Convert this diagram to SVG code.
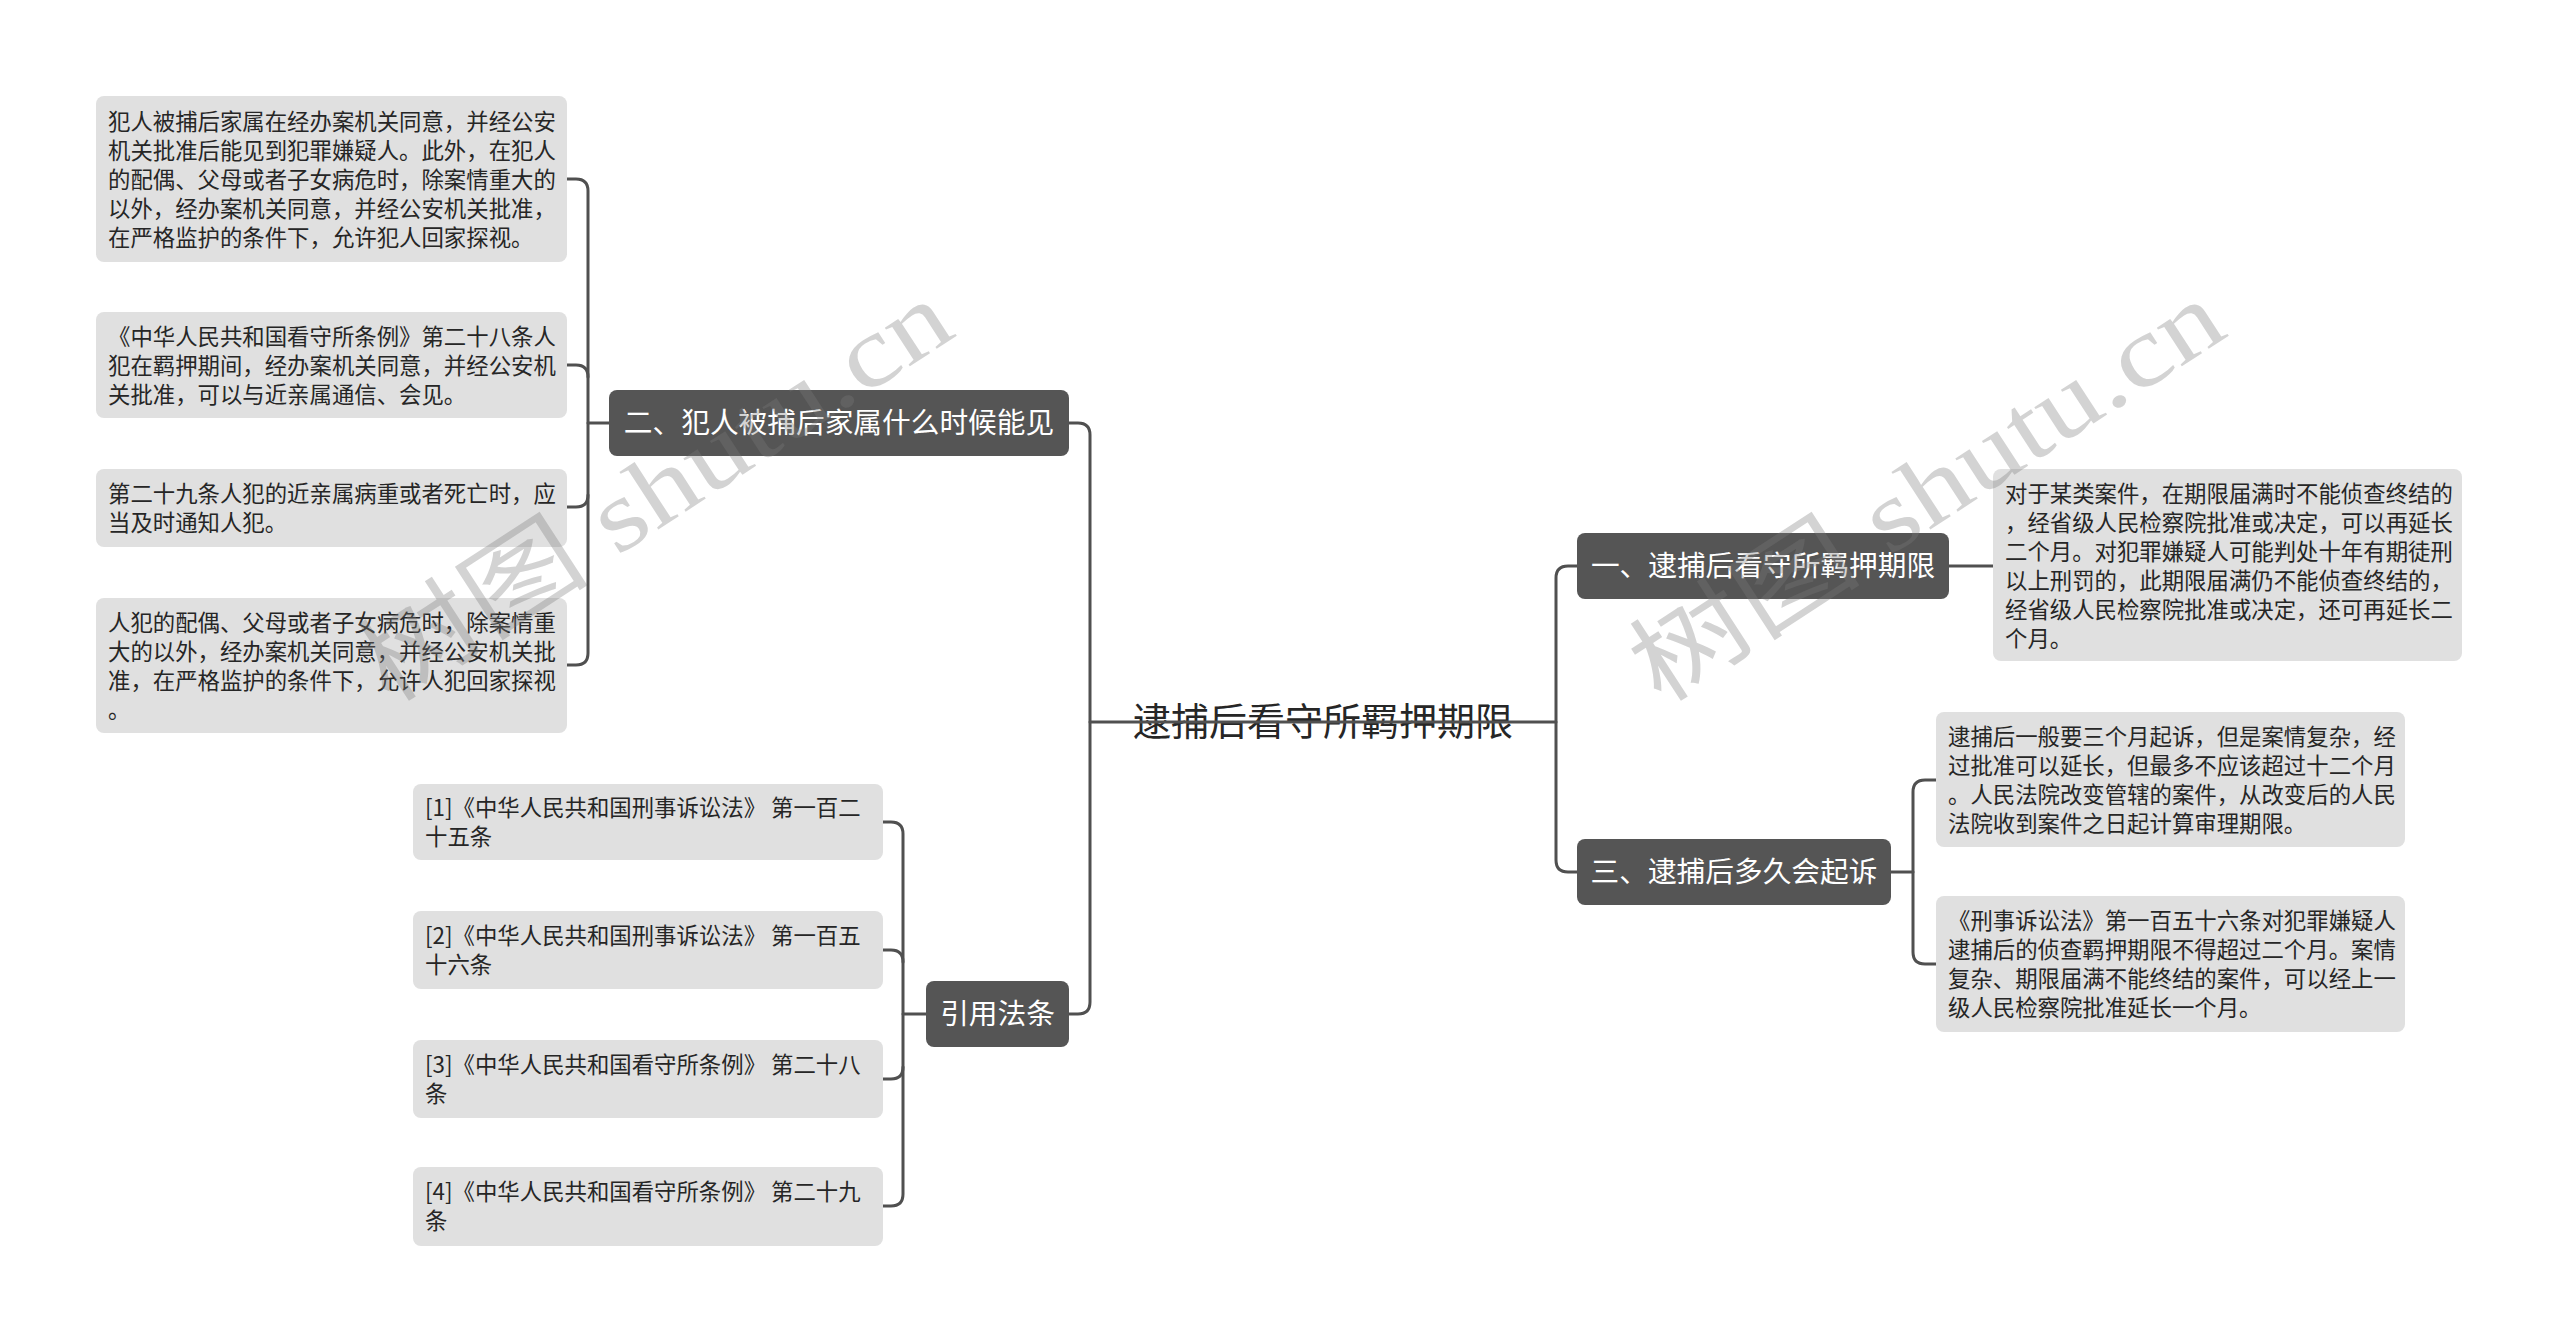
<svg xmlns="http://www.w3.org/2000/svg" width="2560" height="1343" viewBox="0 0 2560 1343">
<style>
.bg{fill:#ffffff}
.leaf{fill:#e0e0e0}
.mid{fill:#555555}
.lt{font-family:"Noto Sans CJK SC","Noto Sans",sans-serif;font-size:22.4px;fill:#262626}
.mt{font-family:"Noto Sans CJK SC","Noto Sans",sans-serif;font-size:28.7px;fill:#ffffff;text-anchor:middle}
.tt{font-family:"Noto Sans CJK SC","Noto Sans",sans-serif;font-size:38px;fill:#262626;text-anchor:middle}
.ln{fill:none;stroke:#505050;stroke-width:3;stroke-linecap:round;stroke-linejoin:round}
.wm{font-family:"Liberation Serif","Noto Sans CJK SC",serif;font-size:100px;fill:#7a7a7a;fill-opacity:0.33}
</style>
<rect class="bg" x="0" y="0" width="2560" height="1343"/>

<g id="root">
  <text class="tt" x="1323" y="735">逮捕后看守所羁押期限</text>
</g>

<g id="connectors">
  <path class="ln" d="M1069,423 H1078 Q1090,423 1090,435 V1002 Q1090,1014 1078,1014 H1069"/>
  <path class="ln" d="M1090,722 H1556"/>
  <path class="ln" d="M1577,566 H1568 Q1556,566 1556,578 V860 Q1556,872 1568,872 H1577"/>
  <path class="ln" d="M609,423 H588"/>
  <path class="ln" d="M567,179 H576 Q588,179 588,191 V653 Q588,665 576,665 H567"/>
  <path class="ln" d="M567,365 H576 Q588,365 588,377"/>
  <path class="ln" d="M567,507 H576 Q588,507 588,495"/>
  <path class="ln" d="M926,1014 H903"/>
  <path class="ln" d="M883,822 H891 Q903,822 903,834 V1194 Q903,1206 891,1206 H883"/>
  <path class="ln" d="M883,950 H891 Q903,950 903,962"/>
  <path class="ln" d="M883,1079 H891 Q903,1079 903,1067"/>
  <path class="ln" d="M1949,566 H1993"/>
  <path class="ln" d="M1891,872 H1913"/>
  <path class="ln" d="M1936,780 H1925 Q1913,780 1913,792 V952 Q1913,964 1925,964 H1936"/>
</g>

<g id="n2">
  <rect class="mid" x="609" y="390" width="460" height="66" rx="8"/>
  <text class="mt" x="839" y="433">二、犯人被捕后家属什么时候能见</text>
</g>
<g id="n-ref">
  <rect class="mid" x="926" y="981" width="143" height="66" rx="8"/>
  <text class="mt" x="997.5" y="1024">引用法条</text>
</g>
<g id="n1">
  <rect class="mid" x="1577" y="533" width="372" height="66" rx="8"/>
  <text class="mt" x="1763" y="576">一、逮捕后看守所羁押期限</text>
</g>
<g id="n3">
  <rect class="mid" x="1577" y="839" width="314" height="66" rx="8"/>
  <text class="mt" x="1734" y="882">三、逮捕后多久会起诉</text>
</g>

<g id="leaf-l1">
  <rect class="leaf" x="96" y="96" width="471" height="166" rx="8"/>
  <text class="lt">
    <tspan x="108" y="130">犯人被捕后家属在经办案机关同意，并经公安</tspan>
    <tspan x="108" y="159">机关批准后能见到犯罪嫌疑人。此外，在犯人</tspan>
    <tspan x="108" y="188">的配偶、父母或者子女病危时，除案情重大的</tspan>
    <tspan x="108" y="217">以外，经办案机关同意，并经公安机关批准，</tspan>
    <tspan x="108" y="246">在严格监护的条件下，允许犯人回家探视。</tspan>
  </text>
</g>
<g id="leaf-l2">
  <rect class="leaf" x="96" y="312" width="471" height="106" rx="8"/>
  <text class="lt">
    <tspan x="108" y="345">《中华人民共和国看守所条例》第二十八条人</tspan>
    <tspan x="108" y="374">犯在羁押期间，经办案机关同意，并经公安机</tspan>
    <tspan x="108" y="403">关批准，可以与近亲属通信、会见。</tspan>
  </text>
</g>
<g id="leaf-l3">
  <rect class="leaf" x="96" y="469" width="471" height="78" rx="8"/>
  <text class="lt">
    <tspan x="108" y="502">第二十九条人犯的近亲属病重或者死亡时，应</tspan>
    <tspan x="108" y="531">当及时通知人犯。</tspan>
  </text>
</g>
<g id="leaf-l4">
  <rect class="leaf" x="96" y="598" width="471" height="135" rx="8"/>
  <text class="lt">
    <tspan x="108" y="631">人犯的配偶、父母或者子女病危时，除案情重</tspan>
    <tspan x="108" y="660">大的以外，经办案机关同意，并经公安机关批</tspan>
    <tspan x="108" y="689">准，在严格监护的条件下，允许人犯回家探视</tspan>
    <tspan x="108" y="718">。</tspan>
  </text>
</g>

<g id="ref-1">
  <rect class="leaf" x="413" y="784" width="470" height="76" rx="8"/>
  <text class="lt">
    <tspan x="425" y="816">[1]《中华人民共和国刑事诉讼法》 第一百二</tspan>
    <tspan x="425" y="845">十五条</tspan>
  </text>
</g>
<g id="ref-2">
  <rect class="leaf" x="413" y="911" width="470" height="78" rx="8"/>
  <text class="lt">
    <tspan x="425" y="944">[2]《中华人民共和国刑事诉讼法》 第一百五</tspan>
    <tspan x="425" y="973">十六条</tspan>
  </text>
</g>
<g id="ref-3">
  <rect class="leaf" x="413" y="1040" width="470" height="78" rx="8"/>
  <text class="lt">
    <tspan x="425" y="1073">[3]《中华人民共和国看守所条例》 第二十八</tspan>
    <tspan x="425" y="1102">条</tspan>
  </text>
</g>
<g id="ref-4">
  <rect class="leaf" x="413" y="1167" width="470" height="79" rx="8"/>
  <text class="lt">
    <tspan x="425" y="1200">[4]《中华人民共和国看守所条例》 第二十九</tspan>
    <tspan x="425" y="1229">条</tspan>
  </text>
</g>

<g id="leaf-r1">
  <rect class="leaf" x="1993" y="469" width="469" height="192" rx="8"/>
  <text class="lt">
    <tspan x="2005" y="502">对于某类案件，在期限届满时不能侦查终结的</tspan>
    <tspan x="2005" y="531">，经省级人民检察院批准或决定，可以再延长</tspan>
    <tspan x="2005" y="560">二个月。对犯罪嫌疑人可能判处十年有期徒刑</tspan>
    <tspan x="2005" y="589">以上刑罚的，此期限届满仍不能侦查终结的，</tspan>
    <tspan x="2005" y="618">经省级人民检察院批准或决定，还可再延长二</tspan>
    <tspan x="2005" y="647">个月。</tspan>
  </text>
</g>
<g id="leaf-r3a">
  <rect class="leaf" x="1936" y="712" width="469" height="135" rx="8"/>
  <text class="lt">
    <tspan x="1948" y="745">逮捕后一般要三个月起诉，但是案情复杂，经</tspan>
    <tspan x="1948" y="774">过批准可以延长，但最多不应该超过十二个月</tspan>
    <tspan x="1948" y="803">。人民法院改变管辖的案件，从改变后的人民</tspan>
    <tspan x="1948" y="832">法院收到案件之日起计算审理期限。</tspan>
  </text>
</g>
<g id="leaf-r3b">
  <rect class="leaf" x="1936" y="896" width="469" height="136" rx="8"/>
  <text class="lt">
    <tspan x="1948" y="929">《刑事诉讼法》第一百五十六条对犯罪嫌疑人</tspan>
    <tspan x="1948" y="958">逮捕后的侦查羁押期限不得超过二个月。案情</tspan>
    <tspan x="1948" y="987">复杂、期限届满不能终结的案件，可以经上一</tspan>
    <tspan x="1948" y="1016">级人民检察院批准延长一个月。</tspan>
  </text>
</g>

<g id="watermarks">
  <text class="wm" transform="translate(388,705) rotate(-33)" textLength="680" lengthAdjust="spacingAndGlyphs">树图 shutu.cn</text>
  <text class="wm" transform="translate(1660,705) rotate(-33)" textLength="680" lengthAdjust="spacingAndGlyphs">树图 shutu.cn</text>
</g>
</svg>
